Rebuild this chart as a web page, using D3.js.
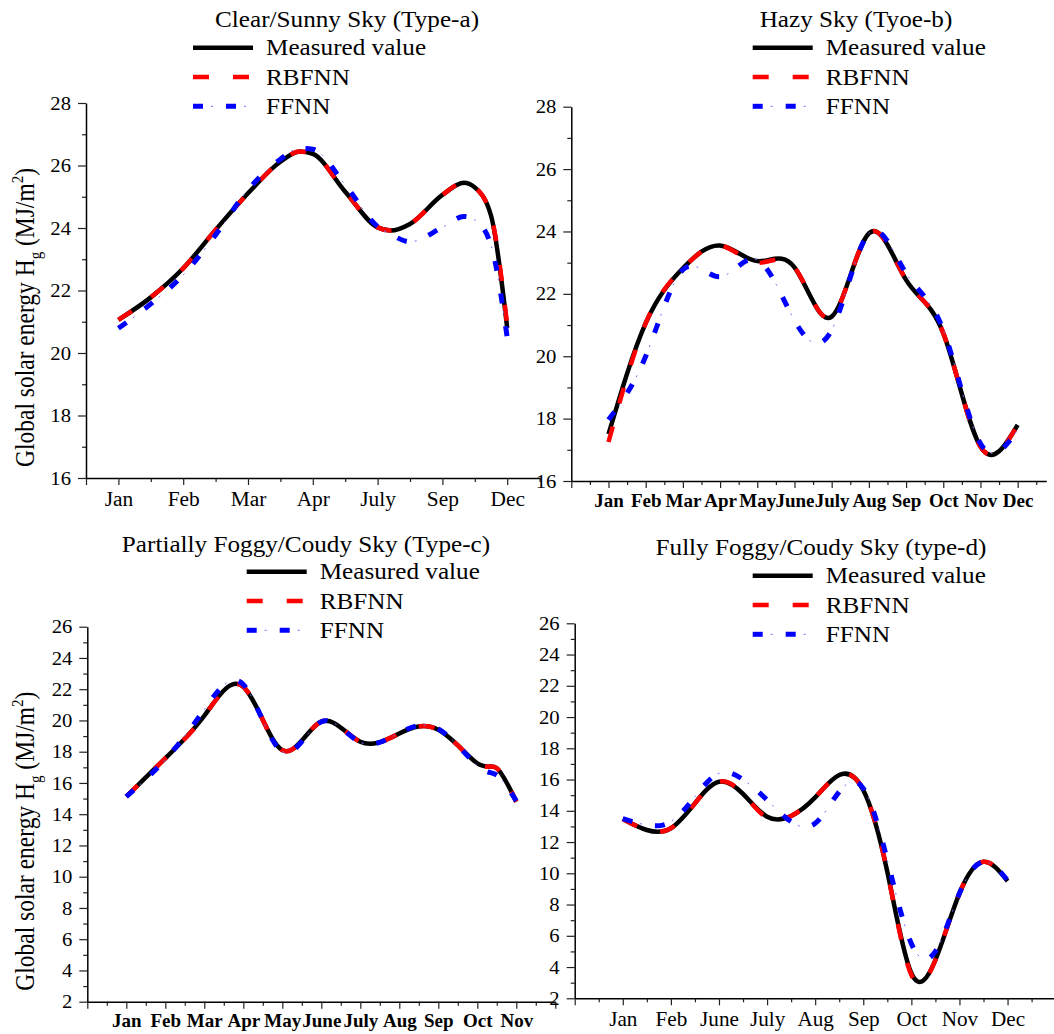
<!DOCTYPE html>
<html>
<head>
<meta charset="utf-8">
<script src="https://cdn.jsdelivr.net/npm/d3@7"></script>
<style>
  body { margin: 0; background: #fff; }
  svg text { font-family: "Liberation Serif", "Times New Roman", serif; fill: #000; }
</style>
</head>
<body>
<svg id="chart" width="1054" height="1034"></svg>
<script>
// values (MJ/m^2); positions are in month-slot units
const monthsA = ["Jan", "Feb", "Mar", "Apr", "July", "Sep", "Dec"];
const positionsA = [0, 0.5, 1, 1.5, 2, 2.5, 2.8, 3, 3.5, 4, 4.2, 4.5, 5, 5.33, 5.5, 5.75, 6];
const measuredA = [21.06, 21.78, 22.71, 23.94, 25.11, 26.12, 26.45, 26.37, 25.16, 24.02, 23.92, 24.13, 25.06, 25.45, 25.3, 24.4, 20.8];
const rbfnnA = [21.06, 21.78, 22.71, 23.94, 25.11, 26.12, 26.45, 26.37, 25.16, 24.02, 23.92, 24.13, 25.06, 25.45, 25.3, 24.4, 20.9];
const ffnnA = [20.79, 21.57, 22.5, 23.78, 25.22, 26.2, 26.55, 26.52, 25.38, 24.05, 23.8, 23.56, 24.02, 24.37, 24.26, 23.45, 20.5];

const monthsB = ["Jan", "Feb", "Mar", "Apr", "May", "June", "July", "Aug", "Sep", "Oct", "Nov", "Dec"];
const positionsB = [0, 1, 2, 3, 4, 5, 6, 7, 8, 9, 10, 11];
const measuredB = [17.5, 21.06, 22.82, 23.55, 23.05, 22.85, 21.27, 23.94, 22.45, 20.74, 17.1, 17.8];
const rbfnnB = [17.25, 21.06, 22.82, 23.55, 23.0, 22.85, 21.27, 23.94, 22.45, 20.74, 17.1, 17.8];
const ffnnB = [17.96, 20.0, 22.77, 22.55, 23.09, 21.15, 20.84, 23.94, 22.66, 20.84, 17.2, 17.64];

const monthsC = ["Jan", "Feb", "Mar", "Apr", "May", "June", "July", "Aug", "Sep", "Oct", "Nov"];
const positionsC = [0, 1, 2, 3, 4, 5, 6, 7, 8, 9, 9.5, 10];
const measuredC = [15.12, 17.58, 20.3, 22.16, 18.1, 19.92, 18.64, 19.17, 19.4, 17.26, 16.94, 14.8];
const rbfnnC = [15.12, 17.58, 20.3, 22.16, 18.1, 19.92, 18.64, 19.17, 19.4, 17.26, 16.94, 14.8];
const ffnnC = [15.12, 17.5, 20.7, 22.3, 18.0, 19.92, 18.6, 19.2, 19.45, 17.1, 16.5, 14.85];

const monthsD = ["Jan", "Feb", "June", "July", "Aug", "Sep", "Oct", "Nov", "Dec"];
const positionsD = [0, 0.5, 1, 1.5, 2, 2.5, 3, 3.5, 4, 4.5, 5, 5.5, 6, 6.5, 7, 7.5, 8];
const measuredD = [13.48, 12.77, 12.88, 14.48, 15.86, 15.08, 13.62, 13.67, 14.86, 16.29, 15.33, 10.1, 3.6, 4.45, 8.72, 10.74, 9.5];
const rbfnnD = [13.48, 12.77, 12.88, 14.48, 15.86, 15.08, 13.55, 13.67, 14.86, 16.29, 15.33, 10.1, 3.5, 4.45, 8.72, 10.74, 9.55];
const ffnnD = [13.5, 13.09, 13.3, 14.9, 16.4, 16.0, 14.69, 13.3, 13.2, 15.22, 15.44, 10.85, 5.5, 5.0, 8.72, 10.74, 9.55];

const seriesNames = ["Measured value", "RBFNN", "FFNN"];

const panels = [
  { title: "Clear/Sunny Sky (Type-a)", months: monthsA, positions: positionsA, series: [measuredA, rbfnnA, ffnnA],
    curve: d3.curveMonotoneX,
    xDomain: [-0.5, 6.5], xRange: [86, 539.6], yDomain: [16, 28], yRange: [478, 103],
    titleX: 347, titleY: 27, legX: 193, legY: 47.7, yLabel: true,
    xFont: 20, xBold: false, xStretch: 1.07, xOffset: 28 },
  { title: "Hazy Sky (Tyoe-b)", months: monthsB, positions: positionsB, series: [measuredB, rbfnnB, ffnnB],
    curve: d3.curveNatural,
    xDomain: [-1, 11.77], xRange: [571.3, 1046.3], yDomain: [16, 28], yRange: [481, 106.7],
    titleX: 856, titleY: 27, legX: 752.7, legY: 47.7, yLabel: false,
    xFont: 19, xBold: true, xStretch: 1, xOffset: 25.5 },
  { title: "Partially Foggy/Coudy Sky (Type-c)", months: monthsC, positions: positionsC, series: [measuredC, rbfnnC, ffnnC],
    curve: d3.curveNatural,
    xDomain: [-1, 11], xRange: [87.3, 555.3], yDomain: [2, 26], yRange: [1001.7, 626.7],
    titleX: 306, titleY: 551.7, legX: 246.7, legY: 571.7, yLabel: true,
    xFont: 19, xBold: true, xStretch: 1, xOffset: 25 },
  { title: "Fully Foggy/Coudy Sky (type-d)", months: monthsD, positions: positionsD, series: [measuredD, rbfnnD, ffnnD],
    curve: d3.curveNatural,
    xDomain: [-1, 8.97], xRange: [574.7, 1054.2], yDomain: [2, 26], yRange: [998.3, 623.3],
    titleX: 821, titleY: 555, legX: 752.7, legY: 575.7, yLabel: false,
    xFont: 20, xBold: false, xStretch: 1.06, xOffset: 28 }
];

const svg = d3.select("#chart");
const TEXT_STRETCH = 1.12;

function stretchedText(g, x, y, str, size, anchor) {
  return g.append("text")
    .attr("transform", `translate(${x},${y}) scale(${TEXT_STRETCH},1)`)
    .attr("text-anchor", anchor || "start")
    .style("font-size", size + "px")
    .text(str);
}

function styleMeasured(path) {
  path.attr("fill", "none").attr("stroke", "#000").attr("stroke-width", 4.5);
}
function styleRbf(path) {
  path.attr("fill", "none").attr("stroke", "#ff0000").attr("stroke-width", 4.5)
    .attr("stroke-dasharray", "16 24");
}
function styleFfnnThick(path) {
  path.attr("fill", "none").attr("stroke", "#0000ff").attr("stroke-width", 5)
    .attr("stroke-dasharray", "10 23");
}
function styleFfnnThin(path) {
  path.attr("fill", "none").attr("stroke", "#7070ff").attr("stroke-width", 1)
    .attr("stroke-dasharray", "0 18 2 13");
}

function drawPanel(p) {
  const g = svg.append("g");
  const x = d3.scaleLinear().domain(p.xDomain).range(p.xRange);
  const y = d3.scaleLinear().domain(p.yDomain).range(p.yRange);
  const yBase = p.yRange[0];
  const xBase = p.xRange[0];

  // x ticks every half month, long ones on the months
  const halfSteps = d3.range(Math.ceil(p.xDomain[0] * 2), Math.floor(p.xDomain[1] * 2) + 1).map(v => v / 2);
  const majorX = halfSteps.filter(v => Number.isInteger(v) || v === p.xDomain[0]);
  const minorX = halfSteps.filter(v => !majorX.includes(v));

  g.append("g")
    .attr("transform", `translate(0,${yBase})`)
    .call(d3.axisBottom(x).tickValues(minorX).tickSize(4).tickFormat(""))
    .call(a => a.select(".domain").remove());

  const gx = g.append("g")
    .attr("transform", `translate(0,${yBase})`)
    .call(d3.axisBottom(x).tickValues(majorX).tickSize(7).tickSizeOuter(0)
      .tickFormat(i => p.months[i] || ""));
  gx.selectAll("text")
    .attr("y", p.xOffset).attr("dy", 0)
    .attr("transform", `scale(${p.xStretch},1)`)
    .style("font-size", p.xFont + "px")
    .style("font-weight", p.xBold ? "bold" : "normal");

  // y ticks: labels on even values, short ticks on odd ones
  const majorY = d3.range(p.yDomain[0], p.yDomain[1] + 1, 2);
  const minorY = d3.range(p.yDomain[0] + 1, p.yDomain[1], 2);

  g.append("g")
    .attr("transform", `translate(${xBase},0)`)
    .call(d3.axisLeft(y).tickValues(minorY).tickSize(4).tickFormat(""))
    .call(a => a.select(".domain").remove());

  const gy = g.append("g")
    .attr("transform", `translate(${xBase},0)`)
    .call(d3.axisLeft(y).tickValues(majorY).tickSize(8).tickSizeOuter(0));
  const yStretch = 1.15;
  gy.selectAll("text")
    .attr("x", -15 / yStretch).attr("dy", "0.34em")
    .attr("transform", `scale(${yStretch},1)`)
    .style("font-size", "18px");

  g.selectAll(".domain").attr("stroke", "#000").attr("stroke-width", 1.5);
  g.selectAll(".tick line").attr("stroke", "#222").attr("stroke-width", 1.2);

  // curves
  const line = d3.line()
    .x((d, i) => x(p.positions[i]))
    .y(d => y(d))
    .curve(p.curve);
  const [measured, rbf, ffnn] = p.series;
  g.append("path").datum(measured).attr("d", line).call(styleMeasured);
  g.append("path").datum(rbf).attr("d", line).call(styleRbf);
  g.append("path").datum(ffnn).attr("d", line).call(styleFfnnThick);
  g.append("path").datum(ffnn).attr("d", line).call(styleFfnnThin);

  // title
  stretchedText(g, p.titleX, p.titleY, p.title, 22.5, "middle");

  // legend
  const styles = [[styleMeasured], [styleRbf], [styleFfnnThick, styleFfnnThin]];
  seriesNames.forEach((name, k) => {
    const ly = p.legY + k * 29.3;
    styles[k].forEach(st => {
      g.append("path").attr("d", `M${p.legX},${ly}H${p.legX + 60}`).call(st);
    });
    stretchedText(g, p.legX + 73, ly + 7.5, name, 22.5);
  });

  // y axis title
  if (p.yLabel) {
    const cy = (p.yRange[0] + p.yRange[1]) / 2 + 27;
    const t = g.append("text")
      .attr("transform", `translate(34,${cy}) rotate(-90) scale(1,${TEXT_STRETCH})`)
      .attr("text-anchor", "middle")
      .style("font-size", "23.5px");
    t.append("tspan").text("Global solar energy H");
    t.append("tspan").attr("dy", 6).style("font-size", "15px").text("g");
    t.append("tspan").attr("dy", -6).text(" (MJ/m");
    t.append("tspan").attr("dy", -10).style("font-size", "15px").text("2");
    t.append("tspan").attr("dy", 10).text(")");
  }
}

panels.forEach(drawPanel);
</script>
</body>
</html>
